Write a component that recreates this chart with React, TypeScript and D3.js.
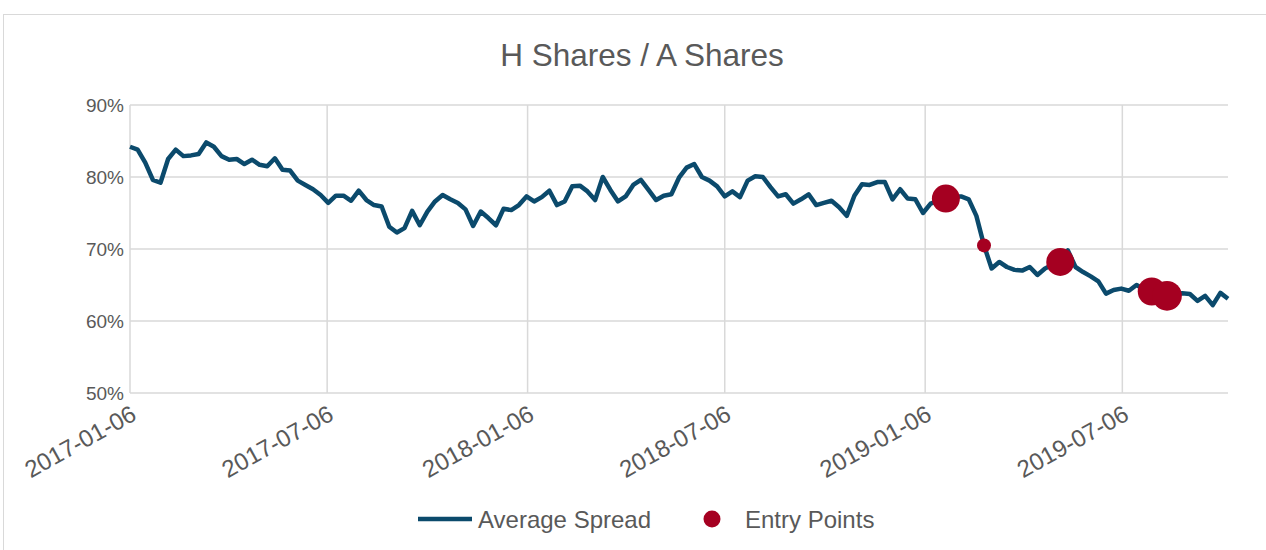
import { useEffect, useRef } from 'react'
import * as d3 from 'd3'

// weekly observations, first Friday 2017-01-06
const startDate = '2017-01-06'
const spread = [
  84.2, 83.8, 82.0, 79.6, 79.2, 82.5, 83.8, 82.9, 83.0, 83.2,
  84.8, 84.2, 82.9, 82.4, 82.5, 81.8, 82.4, 81.7, 81.5, 82.6,
  81.0, 80.9, 79.5, 78.9, 78.3, 77.5, 76.4, 77.4, 77.4, 76.7,
  78.1, 76.8, 76.1, 75.9, 73.1, 72.3, 72.9, 75.3, 73.3, 75.2,
  76.6, 77.5, 76.9, 76.4, 75.5, 73.2, 75.2, 74.3, 73.3, 75.6,
  75.4, 76.1, 77.3, 76.6, 77.2, 78.1, 76.1, 76.6, 78.7, 78.8,
  78.0, 76.8, 80.0, 78.2, 76.6, 77.3, 78.9, 79.6, 78.2, 76.8,
  77.4, 77.6, 79.9, 81.3, 81.8, 80.0, 79.5, 78.7, 77.3, 78.0,
  77.2, 79.5, 80.1, 80.0, 78.6, 77.3, 77.6, 76.3, 76.9, 77.6,
  76.1, 76.4, 76.7, 75.8, 74.6, 77.4, 79.0, 78.9, 79.3, 79.3,
  76.9, 78.3, 77.0, 76.9, 75.0, 76.3, 76.7, 77.0, 77.3, 77.3,
  76.9, 74.6, 70.5, 67.3, 68.2, 67.5, 67.1, 67.0, 67.5, 66.4,
  67.3, 67.8, 68.2, 69.8, 67.5, 66.8, 66.2, 65.5, 63.8, 64.3,
  64.5, 64.2, 65.0, 64.4, 64.1, 63.8, 63.5, 63.8, 63.85, 63.75,
  62.8, 63.5, 62.2, 63.9, 63.1,
]

const entryDates = ['2019-01-25', '2019-03-01', '2019-05-10', '2019-08-02', '2019-08-16']
const entryValues = [77.0, 70.5, 68.2, 64.1, 63.5]
const entryWeights = [4, 1, 4, 4, 4.5]

const yTicks = [50, 60, 70, 80, 90]
const xTickLabels = ['2017-01-06', '2017-07-06', '2018-01-06', '2018-07-06', '2019-01-06', '2019-07-06']

const title = 'H Shares / A Shares'
const lineLabel = 'Average Spread'
const dotLabel = 'Entry Points'

const LINE = '#0b4a6c'
const DOT = '#a50021'
const GRID = '#d9d9d9'
const TEXT = '#595959'
const FONT = '"Liberation Sans", Arial, sans-serif'

const parse = d3.utcParse('%Y-%m-%d')

export default function App() {
  const svgRef = useRef<SVGSVGElement>(null)

  useEffect(() => {
    if (!svgRef.current) return
    const width = 1266
    const height = 550
    const margin = { top: 105, right: 38, bottom: 157, left: 130 }
    const innerW = width - margin.left - margin.right
    const innerH = height - margin.top - margin.bottom

    const start = parse(startDate)!
    const points = spread.map((v, i) => ({ date: d3.utcDay.offset(start, i * 7), value: v }))
    const entries = entryDates.map((d, i) => ({ date: parse(d)!, value: entryValues[i], w: entryWeights[i] }))

    const svg = d3.select(svgRef.current)
    svg.selectAll('*').remove()
    svg.attr('width', width).attr('height', height)

    // chart frame
    svg.append('rect')
      .attr('x', 3.5).attr('y', 14.5)
      .attr('width', width + 10).attr('height', height + 10)
      .attr('fill', '#fff').attr('stroke', '#d9d9d9').attr('stroke-width', 1)

    svg.append('text')
      .attr('x', 642).attr('y', 65.5)
      .attr('text-anchor', 'middle')
      .attr('font-family', FONT).attr('font-size', 31.5)
      .attr('fill', TEXT)
      .text(title)

    const g = svg.append('g').attr('transform', `translate(${margin.left},${margin.top})`)

    const x = d3.scaleUtc()
      .domain([points[0].date, points[points.length - 1].date])
      .range([0, innerW])
    const y = d3.scaleLinear().domain([50, 90]).range([innerH, 0])
    const r = d3.scaleSqrt().domain([0, 4]).range([0, 14])

    const xTicks = xTickLabels.map(s => parse(s)!)

    // grid
    g.append('g')
      .selectAll('line')
      .data(yTicks)
      .enter().append('line')
      .attr('x1', 0).attr('x2', innerW)
      .attr('y1', d => y(d)).attr('y2', d => y(d))
      .attr('stroke', GRID).attr('stroke-width', 1.5)

    g.append('g')
      .selectAll('line')
      .data(xTicks)
      .enter().append('line')
      .attr('x1', d => x(d)).attr('x2', d => x(d))
      .attr('y1', 0).attr('y2', innerH)
      .attr('stroke', GRID).attr('stroke-width', 1.5)

    // y labels
    g.append('g')
      .selectAll('text')
      .data(yTicks)
      .enter().append('text')
      .attr('x', -6).attr('y', d => y(d))
      .attr('dy', '0.36em')
      .attr('text-anchor', 'end')
      .attr('font-family', FONT).attr('font-size', 19)
      .attr('fill', TEXT)
      .text(d => `${d}%`)

    // x labels, rotated
    g.append('g')
      .selectAll('text')
      .data(xTicks)
      .enter().append('text')
      .attr('transform', d => `translate(${x(d) + 8},${innerH + 26}) rotate(-29)`)
      .attr('text-anchor', 'end')
      .attr('font-family', FONT).attr('font-size', 24)
      .attr('fill', TEXT)
      .text((_, i) => xTickLabels[i])

    const line = d3.line<{ date: Date; value: number }>()
      .x(d => x(d.date))
      .y(d => y(d.value))

    g.append('path')
      .datum(points)
      .attr('fill', 'none')
      .attr('stroke', LINE)
      .attr('stroke-width', 4.5)
      .attr('stroke-linejoin', 'round')
      .attr('d', line)

    g.append('g')
      .selectAll('circle')
      .data(entries)
      .enter().append('circle')
      .attr('cx', d => x(d.date))
      .attr('cy', d => y(d.value))
      .attr('r', d => r(d.w))
      .attr('fill', DOT)

    // legend
    const legend = svg.append('g').attr('transform', 'translate(418,519)')
    legend.append('line')
      .attr('x1', 0).attr('x2', 54).attr('y1', 0).attr('y2', 0)
      .attr('stroke', LINE).attr('stroke-width', 4.5)
    legend.append('text')
      .attr('x', 60).attr('y', 0).attr('dy', '0.36em')
      .attr('font-family', FONT).attr('font-size', 24)
      .attr('fill', TEXT)
      .text(lineLabel)
    legend.append('circle')
      .attr('cx', 294).attr('cy', 0).attr('r', 8.5)
      .attr('fill', DOT)
    legend.append('text')
      .attr('x', 327).attr('y', 0).attr('dy', '0.36em')
      .attr('font-family', FONT).attr('font-size', 24)
      .attr('fill', TEXT)
      .text(dotLabel)
  }, [])

  return (
    <div style={{ position: 'absolute', left: 0, top: 0 }}>
      <svg ref={svgRef} style={{ display: 'block' }} />
    </div>
  )
}
